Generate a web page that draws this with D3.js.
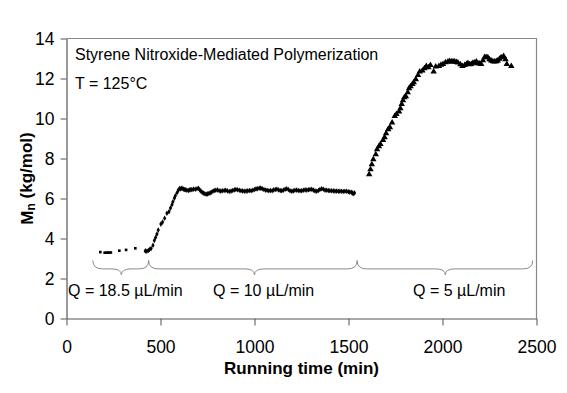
<!DOCTYPE html>
<html>
<head>
<meta charset="utf-8">
<script src="https://cdn.jsdelivr.net/npm/d3@7"></script>
<style>
  body { margin: 0; background: #ffffff; }
  svg { display: block; font-family: "Liberation Sans", Arial, sans-serif; }
  .tickLabel { font-size: 17.5px; fill: #000; }
  .labelGraph { font-size: 17px; font-weight: bold; fill: #000; }
  .note { font-size: 16px; fill: #000; }
  .brace { fill: none; stroke: #8a8a8a; stroke-width: 1; }
</style>
</head>
<body>
<script>

/************************************************************************************************************/
// data

var xTicks = [0, 500, 1000, 1500, 2000, 2500];
var yTicks = [0, 2, 4, 6, 8, 10, 12, 14];

// Q = 18.5 uL/min (small squares)
var fastTime = [180, 203, 212, 220, 228, 236, 281, 317, 366];
var fastMn   = [3.32, 3.29, 3.29, 3.30, 3.29, 3.30, 3.39, 3.43, 3.51];

// Q = 10 uL/min (diamonds)
var midTime = [419, 427, 435, 442, 450, 460, 467, 474, 481, 488, 502, 511, 522, 534, 545, 553, 561, 566, 574, 579,
  588, 595, 601, 608, 614, 621, 627, 632, 640, 649, 656, 662, 667, 676, 685, 694, 702, 709, 715, 722, 729, 736, 743,
  750, 757, 764, 771, 779, 786, 794, 803, 812, 821, 830, 839, 847, 856, 866, 875, 884, 893, 901, 910, 919, 928, 937,
  946, 955, 964, 973, 982, 991, 1000, 1008, 1016, 1025, 1033, 1041, 1050, 1059, 1067, 1076, 1085, 1094, 1102, 1111,
  1119, 1128, 1137, 1145, 1154, 1163, 1171, 1180, 1189, 1198, 1206, 1215, 1224, 1233, 1242, 1251, 1260, 1269, 1278,
  1287, 1295, 1304, 1313, 1322, 1331, 1340, 1348, 1357, 1366, 1375, 1384, 1393, 1401, 1410, 1419, 1428, 1437, 1446,
  1454, 1463, 1472, 1481, 1490, 1499, 1507, 1515, 1520, 1525, 1532];
var midMn = [3.38, 3.36, 3.40, 3.45, 3.50, 3.66, 3.90, 4.05, 4.22, 4.42, 4.72, 4.82, 5.01, 5.26, 5.34, 5.52, 5.69, 5.84,
  6.02, 6.14, 6.29, 6.42, 6.50, 6.48, 6.52, 6.47, 6.45, 6.44, 6.42, 6.40, 6.43, 6.45, 6.44, 6.47, 6.46, 6.49, 6.51,
  6.43, 6.37, 6.30, 6.27, 6.24, 6.21, 6.23, 6.25, 6.28, 6.31, 6.36, 6.40, 6.41, 6.43, 6.39, 6.37, 6.39, 6.40, 6.41,
  6.38, 6.35, 6.37, 6.40, 6.43, 6.45, 6.44, 6.41, 6.39, 6.38, 6.36, 6.37, 6.38, 6.40, 6.39, 6.41, 6.45, 6.48, 6.49,
  6.51, 6.52, 6.49, 6.45, 6.42, 6.41, 6.39, 6.40, 6.39, 6.43, 6.45, 6.46, 6.43, 6.40, 6.39, 6.42, 6.46, 6.49, 6.45,
  6.39, 6.36, 6.38, 6.41, 6.42, 6.40, 6.39, 6.39, 6.41, 6.43, 6.42, 6.44, 6.45, 6.46, 6.42, 6.38, 6.36, 6.40, 6.45,
  6.49, 6.46, 6.42, 6.41, 6.40, 6.39, 6.39, 6.38, 6.37, 6.37, 6.36, 6.36, 6.36, 6.35, 6.36, 6.36, 6.34, 6.32, 6.31,
  6.28, 6.24, 6.28];

// Q = 5 uL/min (triangles)
var slowTime = [1610, 1617, 1624, 1632, 1645, 1652, 1662, 1670, 1684, 1692, 1700, 1711, 1720, 1732, 1746, 1755, 1769,
  1776, 1783, 1790, 1797, 1805, 1815, 1822, 1830, 1840, 1847, 1858, 1870, 1879, 1893, 1904, 1914, 1925, 1936, 1953,
  1964, 1981, 1992, 2003, 2016, 2029, 2038, 2047, 2056, 2065, 2074, 2082, 2095, 2106, 2118, 2127, 2135, 2144, 2153,
  2162, 2171, 2180, 2188, 2197, 2206, 2215, 2224, 2232, 2241, 2250, 2259, 2268, 2277, 2286, 2294, 2303, 2312, 2325,
  2335, 2342, 2366];
var slowMn = [7.2, 7.45, 7.7, 7.95, 8.2, 8.45, 8.6, 8.72, 8.92, 9.06, 9.25, 9.46, 9.56, 9.79, 10.12, 10.22, 10.34,
  10.5, 10.72, 10.9, 11.05, 11.1, 11.3, 11.5, 11.6, 11.72, 11.8, 11.96, 12.17, 12.34, 12.39, 12.5, 12.62, 12.55, 12.67,
  12.34, 12.59, 12.62, 12.68, 12.72, 12.8, 12.84, 12.86, 12.84, 12.85, 12.84, 12.82, 12.79, 12.7, 12.62, 12.67, 12.72,
  12.76, 12.7, 12.72, 12.78, 12.79, 12.84, 12.76, 12.74, 12.72, 12.9, 13.06, 13.07, 13.05, 12.95, 12.89, 12.85, 12.84,
  12.86, 12.89, 12.98, 13.05, 13.12, 12.96, 12.72, 12.62];

// flow-rate braces: start, tip, end (min) and label
var braceStart = [140, 437, 1546];
var braceTip   = [292, 1000, 2015];
var braceEnd   = [437, 1546, 2480];
var braceLabel = ["Q = 18.5 \u00b5L/min", "Q = 10 \u00b5L/min", "Q = 5 \u00b5L/min"];

/************************************************************************************************************/

var W = 567, H = 393;
var margin = {left: 66.5, top: 38.5, right: 30.5, bottom: 74.5};

var svg = d3.select("body").append("svg").attr("width", W).attr("height", H);

var x = d3.scaleLinear().domain([0, 2500]).range([margin.left, W - margin.right]);
var y = d3.scaleLinear().domain([0, 14]).range([H - margin.bottom, margin.top]);

// plot frame (top and right in light gray)
svg.append("path")
  .attr("d", "M" + x(0) + "," + y(14) + "H" + x(2500) + "V" + y(0))
  .attr("fill", "none").attr("stroke", "#888").attr("stroke-width", 1.2);

// y axis
var axisY = svg.append("g").attr("transform", "translate(" + x(0) + ",0)");
axisY.call(d3.axisLeft(y).tickValues(yTicks).tickSize(6).tickSizeOuter(0).tickPadding(6));
axisY.select(".domain").attr("stroke", "#555").attr("stroke-width", 1.2);
axisY.selectAll(".tick line").attr("stroke", "#555");
axisY.selectAll(".tick text").attr("class", "tickLabel").attr("font-size", null).attr("font-family", null);

// x axis
var axisX = svg.append("g").attr("transform", "translate(0," + y(0) + ")");
axisX.call(d3.axisBottom(x).tickValues(xTicks).tickFormat(d3.format("d"))
  .tickSize(7).tickSizeOuter(0).tickPadding(15));
axisX.select(".domain").attr("stroke", "#555").attr("stroke-width", 1.2);
axisX.selectAll(".tick line").attr("stroke", "#555");
axisX.selectAll(".tick text").attr("class", "tickLabel").attr("font-size", null).attr("font-family", null);

// labels
svg.append("text").attr("class", "labelGraph")
  .attr("x", (x(0) + x(2500)) / 2).attr("y", 374)
  .attr("text-anchor", "middle")
  .text("Running time (min)");

var ylab = svg.append("text").attr("class", "labelGraph")
  .attr("transform", "translate(33," + ((y(0) + y(14)) / 2) + ") rotate(-90)")
  .attr("text-anchor", "middle");
ylab.append("tspan").text("M");
ylab.append("tspan").attr("font-size", "12px").attr("dy", "0.2em").text("n");
ylab.append("tspan").attr("dy", "-0.2em").text(" (kg/mol)");

svg.append("text").attr("class", "note").attr("x", 75).attr("y", 60)
  .text("Styrene Nitroxide-Mediated Polymerization");
svg.append("text").attr("class", "note").attr("x", 75).attr("y", 89)
  .text("T = 125\u00b0C");

/************************************************************************************************************/
// curly braces under the data

function bracePath(x0, xm, x1){
  var top = y(2.9), mid = y(2.48), tip = y(2.18), r = 6;
  return "M" + x0 + "," + top +
    "Q" + x0 + "," + mid + " " + (x0 + r * 1.6) + "," + mid +
    "L" + (xm - r * 1.6) + "," + mid +
    "Q" + xm + "," + mid + " " + xm + "," + tip +
    "Q" + xm + "," + mid + " " + (xm + r * 1.6) + "," + mid +
    "L" + (x1 - r * 1.6) + "," + mid +
    "Q" + x1 + "," + mid + " " + x1 + "," + top;
}

braceStart.forEach(function(s, i){
  svg.append("path").attr("class", "brace")
    .attr("d", bracePath(x(s), x(braceTip[i]), x(braceEnd[i])));
});

var labelX = [68, 213, 413];
braceLabel.forEach(function(t, i){
  svg.append("text").attr("class", "note").attr("x", labelX[i]).attr("y", 296).text(t);
});

/************************************************************************************************************/
// markers

function drawSeries(times, values, symbol, size){
  svg.append("g").selectAll("path")
    .data(times)
    .enter().append("path")
    .attr("transform", function(d, i){ return "translate(" + x(d) + "," + y(values[i]) + ")"; })
    .attr("d", d3.symbol().type(symbol).size(size))
    .attr("fill", "#000");
}

drawSeries(fastTime, fastMn, d3.symbolSquare, 7);
drawSeries(midTime, midMn, d3.symbolDiamond, 9);
drawSeries(slowTime, slowMn, d3.symbolTriangle, 18);

</script>
</body>
</html>
